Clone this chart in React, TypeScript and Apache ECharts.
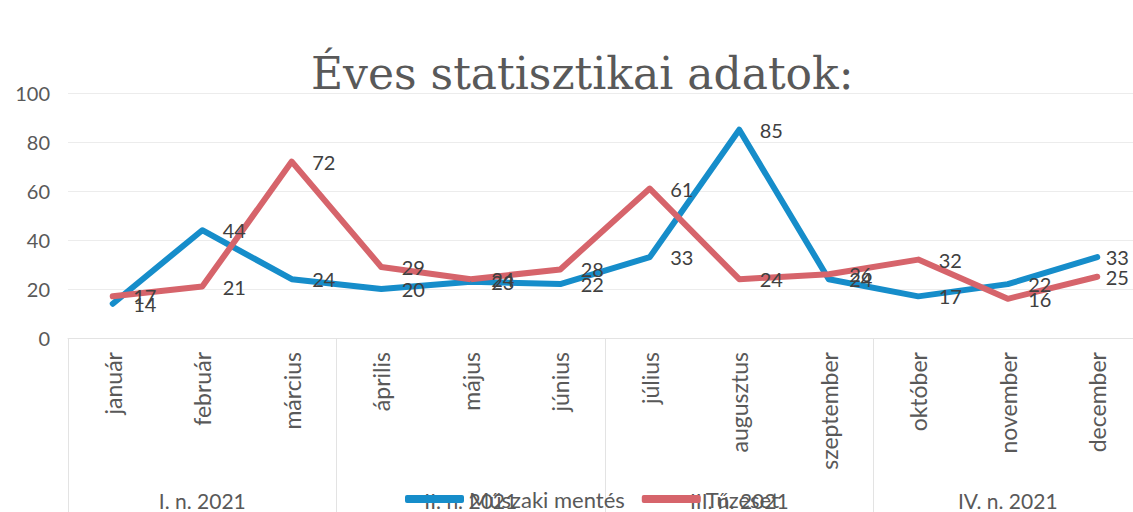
import React, { useEffect, useRef } from "react";
import * as echarts from "echarts";

const months = ["január", "február", "március", "április", "május", "június", "július", "augusztus", "szeptember", "október", "november", "december"];
const quarters = ["I. n. 2021", "II. n. 2021", "III. n. 2021", "IV. n. 2021"];
const muszakiMentes = [14, 44, 24, 20, 23, 22, 33, 85, 24, 17, 22, 33];
const tuzeset = [17, 21, 72, 29, 24, 28, 61, 24, 26, 32, 16, 25];
const yTicks = { min: 0, max: 100, interval: 20 };

const FONT = "Lato";
const BLUE = "#168DCA";
const RED = "#D6646B";

function buildData(values: number[]) {
  return values.map((v, i) =>
    i === values.length - 1 ? { value: v, label: { distance: 8 } } : v
  );
}

export default function App() {
  const ref = useRef<HTMLDivElement>(null);
  useEffect(() => {
    const chart = echarts.init(ref.current!, undefined, { renderer: "svg" });
    const labelStyle = {
      show: true,
      position: "right" as const,
      distance: 20,
      fontFamily: FONT,
      fontSize: 20,
      color: "#404040",
    };
    chart.setOption({
      animation: false,
      backgroundColor: "#ffffff",
      title: {
        text: "Éves statisztikai adatok:",
        left: 306,
        top: 46,
        textStyle: {
          fontFamily: "DejaVu Serif",
          fontSize: 44,
          fontWeight: "normal",
          color: "#595959",
        },
      },
      legend: {
        left: 405,
        top: 487,
        padding: 0,
        itemWidth: 59,
        itemHeight: 8,
        itemGap: 17,
        icon: "roundRect",
        textStyle: { fontFamily: FONT, fontSize: 22, lineHeight: 24, color: "#595959" },
        data: [
          { name: "Műszaki mentés", itemStyle: { color: BLUE, opacity: 1 } },
          { name: "Tűzeset", itemStyle: { color: RED, opacity: 1 } },
        ],
      },
      grid: { left: 68, right: 0, top: 93, bottom: 174 },
      xAxis: [
        {
          type: "category",
          data: months,
          boundaryGap: true,
          axisLine: { show: true, lineStyle: { color: "#e3e3e3" } },
          axisTick: { show: false },
          axisLabel: {
            rotate: 90,
            margin: 14,
            interval: 0,
            fontFamily: FONT,
            fontSize: 23,
            color: "#595959",
          },
        },
        {
          type: "category",
          data: quarters,
          position: "bottom",
          boundaryGap: true,
          axisLine: { show: false },
          axisTick: { show: true, length: 174, interval: 0, lineStyle: { color: "#e3e3e3" } },
          axisLabel: {
            margin: 152,
            interval: 0,
            fontFamily: FONT,
            fontSize: 21,
            color: "#595959",
          },
        },
      ],
      yAxis: {
        type: "value",
        min: yTicks.min,
        max: yTicks.max,
        interval: yTicks.interval,
        axisLine: { show: false },
        axisTick: { show: false },
        splitLine: { lineStyle: { color: "#ececec" } },
        axisLabel: { fontFamily: FONT, fontSize: 20, color: "#595959", margin: 18 },
      },
      series: [
        {
          name: "Műszaki mentés",
          type: "line",
          data: buildData(muszakiMentes),
          showSymbol: true,
          symbol: "circle",
          symbolSize: 1,
          color: BLUE,
          itemStyle: { color: BLUE },
          lineStyle: { width: 6, color: BLUE, cap: "round", join: "round" },
          label: labelStyle,
        },
        {
          name: "Tűzeset",
          type: "line",
          data: buildData(tuzeset),
          showSymbol: true,
          symbol: "circle",
          symbolSize: 1,
          color: RED,
          itemStyle: { color: RED },
          lineStyle: { width: 6, color: RED, cap: "round", join: "round" },
          label: labelStyle,
        },
      ],
    });
    return () => chart.dispose();
  }, []);
  return (
    <div style={{ position: "absolute", left: 0, top: 0, width: 1133, height: 512, overflow: "hidden" }}>
      <div ref={ref} style={{ width: 1142, height: 512 }} />
    </div>
  );
}
